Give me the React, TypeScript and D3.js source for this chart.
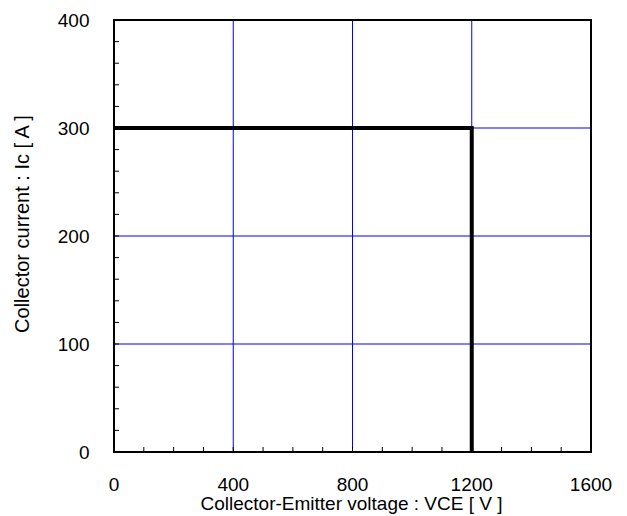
import React from "react";
import * as d3 from "d3";

const xTicks = [0, 400, 800, 1200, 1600];
const yTicks = [0, 100, 200, 300, 400];
const soaV = [0, 1200, 1200];
const soaI = [300, 300, 0];

export default function App() {
  const W = 627, H = 516;
  const m = { left: 114, right: 36, top: 20, bottom: 64 };
  const x = d3.scaleLinear().domain([0, 1600]).range([m.left, W - m.right]);
  const y = d3.scaleLinear().domain([0, 400]).range([H - m.bottom, m.top]);
  const xMinor = d3.range(0, 1601, 100);
  const yMinor = d3.range(0, 401, 20);
  const line = d3.line<number>().x((_, i) => x(soaV[i])).y((d) => y(d));
  const font = "Liberation Sans, Arial, sans-serif";
  const fs = 19;
  return (
    <svg width={W} height={H} style={{ position: "absolute", left: 0, top: 0, background: "#fff" }}>
      {xTicks.slice(1, -1).map((t) => (
        <line key={"gx" + t} x1={x(t)} x2={x(t)} y1={y(0)} y2={y(400)} stroke="#0000ff" strokeWidth={1} />
      ))}
      {yTicks.slice(1, -1).map((t) => (
        <line key={"gy" + t} x1={x(0)} x2={x(1600)} y1={y(t)} y2={y(t)} stroke="#0000ff" strokeWidth={1} />
      ))}
      {xMinor.map((t) => (
        <line key={"mx" + t} x1={x(t)} x2={x(t)} y1={y(0)} y2={y(0) - 5} stroke="#000" strokeWidth={1} />
      ))}
      {yMinor.map((t) => (
        <line key={"my" + t} x1={x(0)} x2={x(0) + 5} y1={y(t)} y2={y(t)} stroke="#000" strokeWidth={1} />
      ))}
      <rect x={x(0)} y={y(400)} width={x(1600) - x(0)} height={y(0) - y(400)} fill="none" stroke="#000" strokeWidth={2} />
      <path d={line(soaI) || ""} fill="none" stroke="#000" strokeWidth={4} strokeLinejoin="miter" />
      {xTicks.map((t) => (
        <text key={"tx" + t} x={x(t)} y={y(0) + 39} textAnchor="middle" fontFamily={font} fontSize={fs}>
          {t}
        </text>
      ))}
      {yTicks.map((t) => (
        <text key={"ty" + t} x={89.5} y={y(t) + 7} textAnchor="end" fontFamily={font} fontSize={fs}>
          {t}
        </text>
      ))}
      <text x={(x(0) + x(1600)) / 2 - 1} y={510} textAnchor="middle" fontFamily={font} fontSize={fs}>
        Collector-Emitter voltage : VCE [ V ]
      </text>
      <text transform={`translate(29,224) rotate(-90)`} textAnchor="middle" fontFamily={font} fontSize={20}>
        Collector current : Ic [ A ]
      </text>
    </svg>
  );
}
